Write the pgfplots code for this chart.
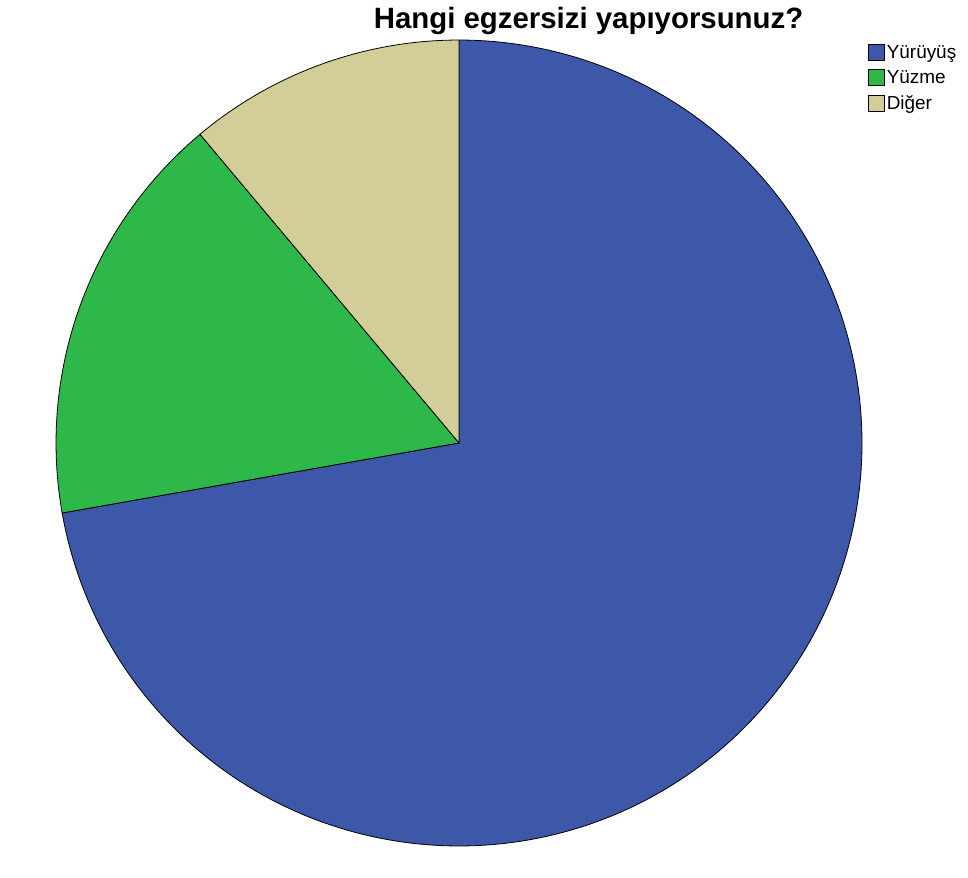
\documentclass[border=0pt]{standalone}
\usepackage{pgfplots}
\pgfplotsset{compat=1.18}
\usepackage{fontspec}
\setmainfont{Liberation Sans}
\definecolor{cwalk}{HTML}{3D57A9}
\definecolor{cswim}{HTML}{2EB84A}
\definecolor{cother}{HTML}{D3CE98}
% counts: Yürüyüş 26, Yüzme 6, Diğer 4 (total 36)
\pgfmathsetmacro{\tot}{36}
\pgfmathsetmacro{\aA}{90}
\pgfmathsetmacro{\aB}{90-360*26/\tot}
\pgfmathsetmacro{\aC}{\aB-360*6/\tot}
\pgfmathsetmacro{\aD}{\aC-360*4/\tot}
\begin{document}
\begin{tikzpicture}
\begin{axis}[
  scale only axis, width=968bp, height=878bp,
  axis lines=none,
  xmin=-1.1390, xmax=1.2630, ymin=-1.0794, ymax=1.0993,
  clip=false,
  legend style={at={(rel axis cs:0.8967,0.9510)}, anchor=north west, draw=none, fill=none,
    font=\fontsize{19}{20}\selectfont, inner sep=0pt, row sep=6.5bp,
    cells={anchor=west},
    /tikz/every even column/.append style={column sep=6bp}},
  legend image code/.code={\draw[#1, line width=0.6pt, draw=black] (0bp,-8bp) rectangle (16bp,8bp);},
  legend cell align=left,
]
\path (rel axis cs:0,0) rectangle (rel axis cs:1,1);
\addplot[fill=cwalk, draw=black, line width=0.8pt, domain=\aA:\aB, samples=200, variable=\t] ({cos(t)},{sin(t)}) -- (axis cs:0,0) -- cycle;
\addlegendentry{Yürüyüş}
\addplot[fill=cswim, draw=black, line width=0.8pt, domain=\aB:\aC, samples=80, variable=\t] ({cos(t)},{sin(t)}) -- (axis cs:0,0) -- cycle;
\addlegendentry{Yüzme}
\addplot[fill=cother, draw=black, line width=0.8pt, domain=\aC:\aD, samples=60, variable=\t] ({cos(t)},{sin(t)}) -- (axis cs:0,0) -- cycle;
\addlegendentry{Diğer}
\node[font=\bfseries\fontsize{29.5}{31}\selectfont, anchor=base] at (rel axis cs:0.608,0.967) {Hangi egzersizi yapıyorsunuz?};
\end{axis}
\end{tikzpicture}
\end{document}
